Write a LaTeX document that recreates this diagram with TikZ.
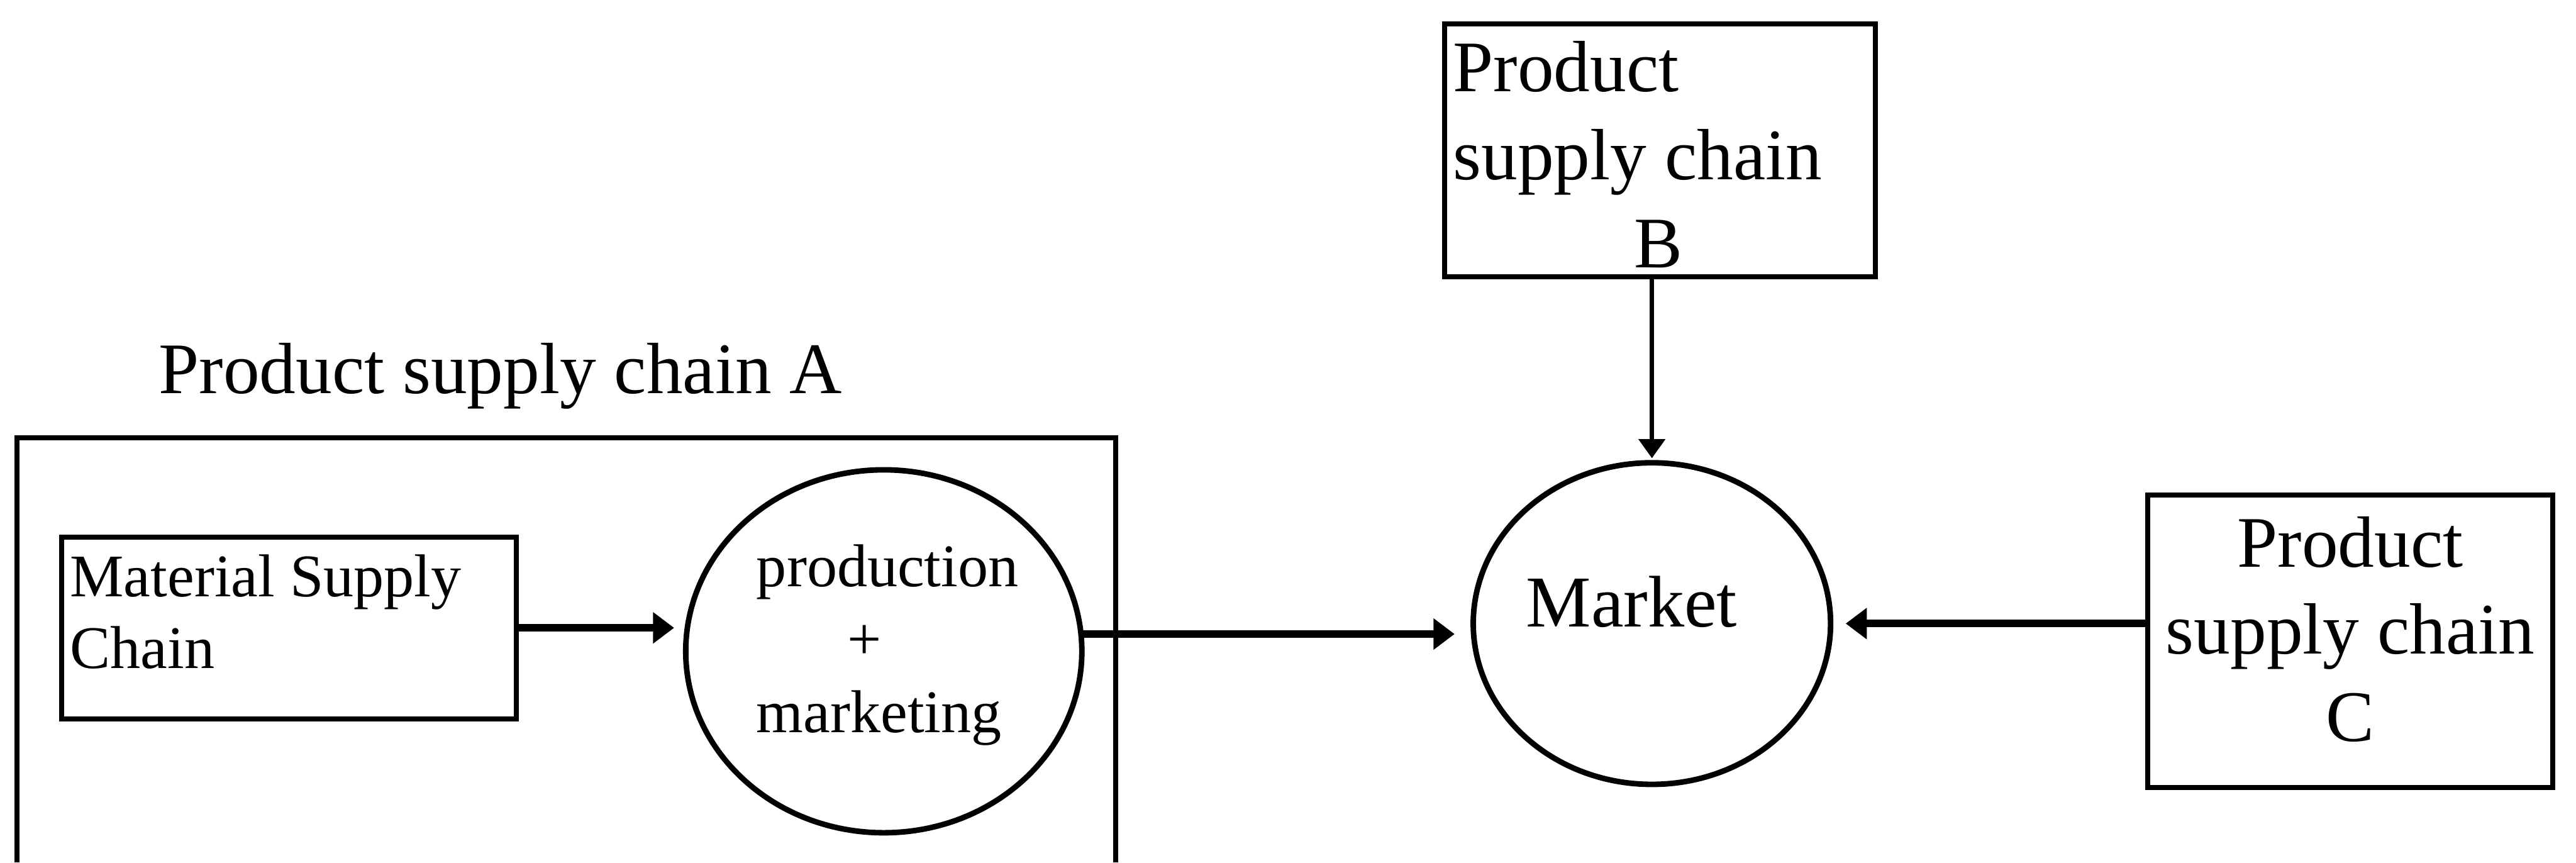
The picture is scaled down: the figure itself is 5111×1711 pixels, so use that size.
\documentclass[tikz,border=0pt]{standalone}
\usepackage{fontspec}
\setmainfont{Liberation Serif}
\usetikzlibrary{shapes.geometric,arrows.meta}

\tikzset{
  every node/.style={inner sep=0pt, outer sep=0pt},
  frame/.style={draw, rectangle, line width=1pt},
  oval/.style={draw, ellipse, line width=1.1pt},
  flow/.style={line width=1.5pt, -{Triangle[length=4.2pt,width=6pt]}},
  feed/.style={line width=0.8pt, -{Triangle[length=3.8pt,width=5.2pt]}},
  bigtext/.style={font=\fontsize{14.4}{17.4}\selectfont},
  smalltext/.style={font=\fontsize{12}{14.45}\selectfont}
}

\begin{document}
\begin{tikzpicture}[x=0.1pt, y=-0.1pt]
  \useasboundingbox (0,0) rectangle (5111,1711);

  % enclosing frame of supply chain A (open at the lower edge)
  \draw[line width=1pt] (34,1711) |- (2213,869) -- (2213,1711);
  \node[bigtext, anchor=base west] (titleA) at (315,780) {Product supply chain A};

  % material supply chain box (multi-line texts are placed by their last baseline)
  \node[frame, minimum width=90.2pt, minimum height=36.1pt] (mat) at (573,1245.5) {};
  \node[font=\fontsize{12}{14.2}\selectfont, align=left, anchor=base west] (mattxt) at (139,1326)
    {Material Supply\\Chain};

  % production + marketing
  \node[oval, minimum width=78.6pt, minimum height=72pt] (prod) at (1753.5,1292) {};
  \node[smalltext, align=left, anchor=base west] (prodtxt) at (1501,1453)
    {production\\\hspace*{18.1pt}+\\marketing};

  % market
  \node[oval, minimum width=70.9pt, minimum height=63.8pt] (mk) at (3277.5,1237) {};
  \node[font=\fontsize{14.5}{17.4}\selectfont, anchor=base west] (mktxt) at (3028,1244) {Market};

  % product supply chain B
  \node[frame, minimum width=85.5pt, minimum height=50.1pt] (pb) at (3293.5,298.5) {};
  \node[font=\fontsize{14.4}{17.45}\selectfont, align=left, anchor=base west] (pbtxt) at (2883,531)
    {Product\\supply chain\\\hspace*{36pt}B};

  % product supply chain C
  \node[frame, minimum width=80.4pt, minimum height=58pt] (pc) at (4663,1272) {};
  \node[font=\fontsize{14.4}{17.25}\selectfont, align=center, anchor=base] (pctxt) at (4663,1470)
    {Product\\supply chain\\C};

  % connectors
  \draw[flow, shorten >=2.3pt] (mat.east) -- (mat.east -| prod.west);
  \draw[flow, shorten >=3.7pt] (prod.5) -- (prod.5 -| mk.west);
  \draw[flow, shorten >=3pt] (mk.east -| pc.west) -- (mk.east);
  \draw[feed, shorten >=0.9pt] (mk.north |- pb.south) -- (mk.north);
\end{tikzpicture}
\end{document}
